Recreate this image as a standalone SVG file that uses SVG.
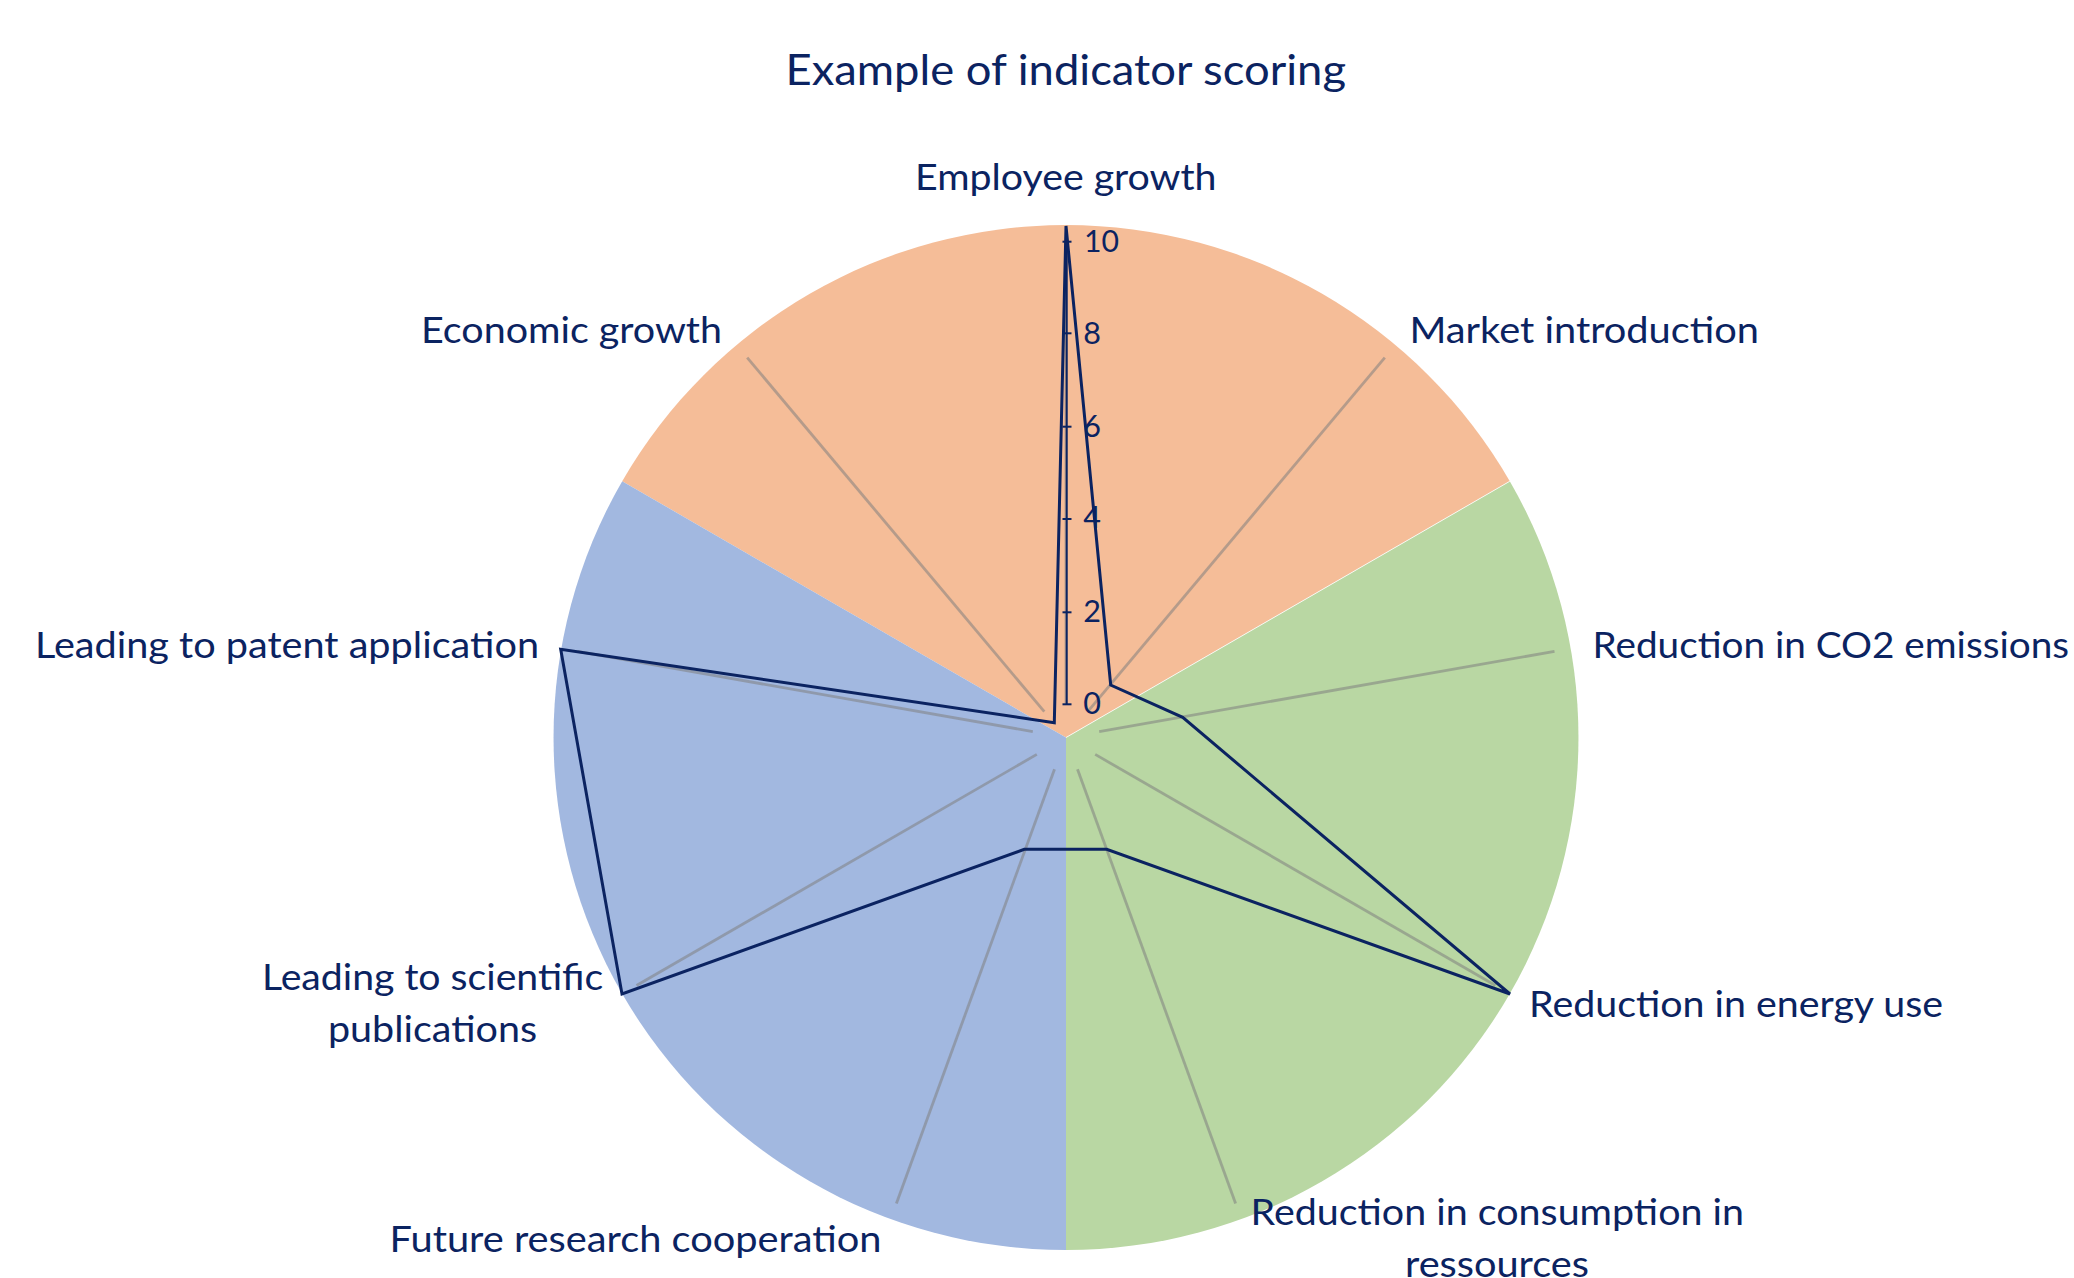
<svg xmlns="http://www.w3.org/2000/svg" width="2074" height="1278" viewBox="0 0 2074 1278">
<style>
  .lbl { font-family: Lato, "Open Sans", "Liberation Sans", sans-serif; font-size: 37.5px; fill: #0b2361; }
  .ttl { font-family: Lato, "Open Sans", "Liberation Sans", sans-serif; font-size: 43px; fill: #0b2361; }
  .num { font-family: Lato, "Open Sans", "Liberation Sans", sans-serif; font-size: 31px; fill: #0b2361; }
  .slice { stroke: none; }
  .seam { stroke: #ffffff; stroke-opacity: 0.8; stroke-width: 1; }
  .grid { stroke: #7f7f7f; stroke-opacity: 0.55; stroke-width: 2.8; fill: none; }
  .axis { stroke: #0b2361; stroke-width: 2; fill: none; }
  .series { stroke: #0b2361; stroke-width: 3; fill: none; stroke-linejoin: miter; }
</style>
<rect x="0" y="0" width="2074" height="1278" fill="#ffffff"/>

<g id="pie">
  <path id="slice-economic" class="slice" fill="#F5BD98" d="M1066,737.5 L622.2,481.25 A512.5,512.5 0 0 1 1509.8,481.25 Z"/>
  <path id="slice-environment" class="slice" fill="#B9D7A3" d="M1066,737.5 L1509.8,481.25 A512.5,512.5 0 0 1 1066,1250 Z"/>
  <path id="slice-research" class="slice" fill="#A2B8E0" d="M1066,737.5 L1066,1250 A512.5,512.5 0 0 1 622.2,481.25 Z"/>
  <line class="seam" x1="1066" y1="737.5" x2="1509.8" y2="481.25"/>
</g>

<g id="gridlines">
  <line class="grid" x1="1066" y1="703.8" x2="1066" y2="241.5"/>
  <line class="grid" x1="1087.7" y1="711.7" x2="1384.8" y2="357.6"/>
  <line class="grid" x1="1099.2" y1="731.6" x2="1554.5" y2="651.4"/>
  <line class="grid" x1="1095.2" y1="754.4" x2="1495.5" y2="985.5"/>
  <line class="grid" x1="1077.5" y1="769.2" x2="1235.6" y2="1203.6"/>
  <line class="grid" x1="1054.5" y1="769.2" x2="896.4" y2="1203.6"/>
  <line class="grid" x1="1036.8" y1="754.4" x2="636.5" y2="985.5"/>
  <line class="grid" x1="1032.8" y1="731.6" x2="577.5" y2="651.4"/>
  <line class="grid" x1="1044.3" y1="711.7" x2="747.2" y2="357.6"/>
</g>

<g id="value-axis">
  <line class="axis" x1="1066.7" y1="241.7" x2="1066.7" y2="704.3"/>
  <line class="axis" x1="1062.5" y1="241.7" x2="1071.5" y2="241.7"/>
  <line class="axis" x1="1062.5" y1="333.3" x2="1071.5" y2="333.3"/>
  <line class="axis" x1="1062.5" y1="426.7" x2="1071.5" y2="426.7"/>
  <line class="axis" x1="1062.5" y1="519" x2="1071.5" y2="519"/>
  <line class="axis" x1="1062.5" y1="612.3" x2="1071.5" y2="612.3"/>
  <line class="axis" x1="1062.5" y1="704.3" x2="1071.5" y2="704.3"/>
  <text class="num" x="1084" y="251.7" textLength="35" lengthAdjust="spacingAndGlyphs">10</text>
  <text class="num" x="1083.3" y="344" textLength="17.7" lengthAdjust="spacingAndGlyphs">8</text>
  <text class="num" x="1083.3" y="437.3" textLength="17.7" lengthAdjust="spacingAndGlyphs">6</text>
  <text class="num" x="1083.3" y="527.5" textLength="17.7" lengthAdjust="spacingAndGlyphs">4</text>
  <text class="num" x="1083.3" y="622.3" textLength="17.7" lengthAdjust="spacingAndGlyphs">2</text>
  <text class="num" x="1083.3" y="713.5" textLength="17.7" lengthAdjust="spacingAndGlyphs">0</text>
</g>

<g id="connectors">
  <path id="series-scores" class="series" d="M1066,226 L1110.7,685 L1182.7,717.4 L1510,994 L1106.7,849.3 L1024.3,849.3 L622,994 L560.7,649.3 L1054.3,722.7 Z"/>
</g>

<g id="title">
  <text class="ttl" x="785.5" y="85" textLength="560.5" lengthAdjust="spacingAndGlyphs">Example of indicator scoring</text>
</g>

<g id="node-employee-growth">
  <text class="lbl" x="915" y="190" textLength="301.5" lengthAdjust="spacingAndGlyphs">Employee growth</text>
</g>
<g id="node-market-introduction">
  <text class="lbl" x="1409.5" y="342.7" textLength="349.5" lengthAdjust="spacingAndGlyphs">Market introduction</text>
</g>
<g id="node-co2">
  <text class="lbl" x="1592.5" y="658.3" textLength="476.5" lengthAdjust="spacingAndGlyphs">Reduction in CO2 emissions</text>
</g>
<g id="node-energy">
  <text class="lbl" x="1529" y="1016.5" textLength="414" lengthAdjust="spacingAndGlyphs">Reduction in energy use</text>
</g>
<g id="node-consumption">
  <text class="lbl" x="1250.5" y="1225" textLength="493.5" lengthAdjust="spacingAndGlyphs">Reduction in consumption in</text>
  <text class="lbl" x="1405" y="1277" textLength="184" lengthAdjust="spacingAndGlyphs">ressources</text>
</g>
<g id="node-future-research">
  <text class="lbl" x="389.5" y="1251.7" textLength="492" lengthAdjust="spacingAndGlyphs">Future research cooperation</text>
</g>
<g id="node-scientific">
  <text class="lbl" x="262" y="990" textLength="341.2" lengthAdjust="spacingAndGlyphs">Leading to scientific</text>
  <text class="lbl" x="328" y="1041.7" textLength="209" lengthAdjust="spacingAndGlyphs">publications</text>
</g>
<g id="node-patent">
  <text class="lbl" x="35" y="658.3" textLength="504" lengthAdjust="spacingAndGlyphs">Leading to patent application</text>
</g>
<g id="node-economic-growth">
  <text class="lbl" x="421" y="342.7" textLength="301" lengthAdjust="spacingAndGlyphs">Economic growth</text>
</g>
</svg>
